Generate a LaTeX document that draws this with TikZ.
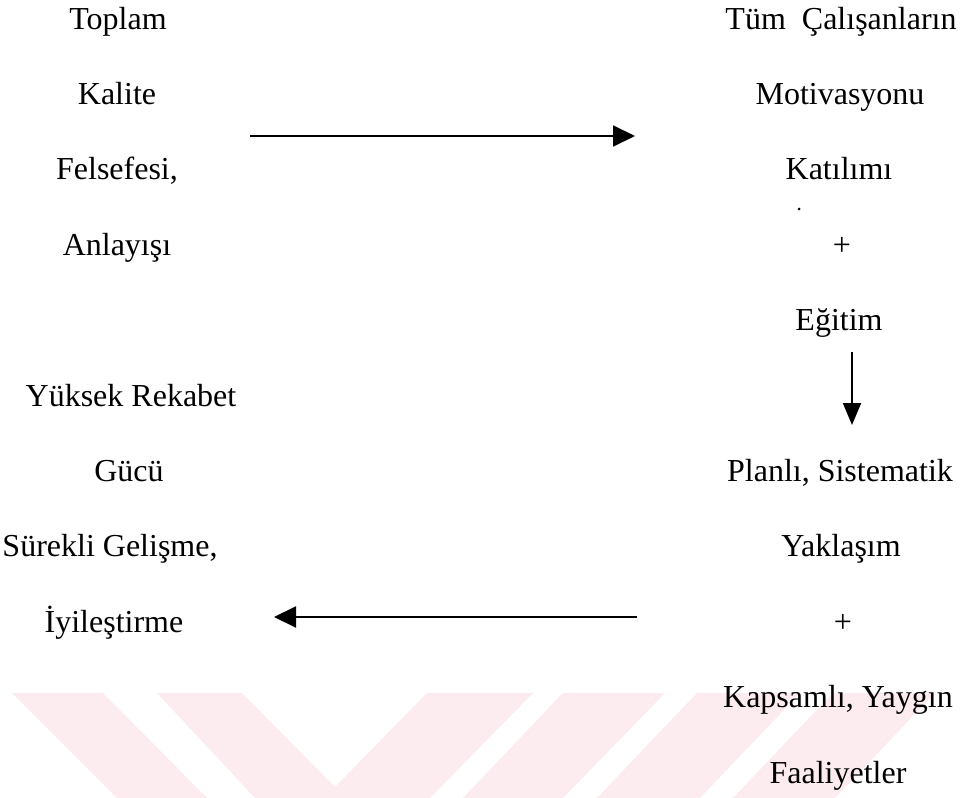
\documentclass[tikz,border=0pt]{standalone}
\usepackage{fontspec}
\setmainfont{Liberation Serif}
\usetikzlibrary{arrows.meta}
\definecolor{wm}{RGB}{252,236,240}
\begin{document}
\begin{tikzpicture}[x=0.5pt,y=-0.5pt,
  lbl/.style={anchor=base,inner sep=0pt,font=\fontsize{16pt}{19pt}\selectfont},
  harr/.style={line width=1pt,-{Triangle[length=11pt,width=10.5pt]}},
  varr/.style={line width=1pt,-{Triangle[length=11pt,width=9pt]}},
  wmark/.style={fill=wm,draw=none}]
\useasboundingbox (0,0) rectangle (960,798);
\fill[white] (0,0) rectangle (960,798);
% watermark
\fill[wmark] (12,693) -- (103,693) -- (207,798) -- (117,798) -- cycle;
\fill[wmark] (157,693) -- (242,693) -- (335,787) -- (427,693) -- (533,693) -- (430,798) -- (255,798) -- cycle;
\fill[wmark] (563,693) -- (665,693) -- (563,798) -- (463,798) -- cycle;
\fill[wmark] (697,693) -- (800,693) -- (700,798) -- (597,798) -- cycle;
\fill[wmark] (833,693) -- (935,693) -- (835,798) -- (733,798) -- cycle;
% left column
\node[lbl] (l1) at (118,29) {Toplam};
\node[lbl] (l2) at (117,104.4) {Kalite};
\node[lbl] (l3) at (117,179.8) {Felsefesi,};
\node[lbl] (l4) at (117,255.2) {Anlayışı};
\node[lbl] (l5) at (131,406) {Yüksek Rekabet};
\node[lbl] (l6) at (129,481.4) {Gücü};
\node[lbl] (l7) at (110,556.8) {Sürekli Gelişme,};
\node[lbl] (l8) at (114,632.2) {İyileştirme};
% right column
\node[lbl] (r1) at (841,29) {Tüm\ \ Çalışanların};
\node[lbl] (r2) at (840,104.4) {Motivasyonu};
\node[lbl] (r3) at (839,179.8) {Katılımı};
\node[lbl] (r4) at (842,255.2) {+};
\node[lbl] (r5) at (839,330.6) {Eğitim};
\node[lbl] (r6) at (840,481.4) {Planlı, Sistematik};
\node[lbl] (r7) at (841,556.8) {Yaklaşım};
\node[lbl] (r8) at (843,632.2) {+};
\node[lbl] (r9) at (838,707.6) {Kapsamlı, Yaygın};
\node[lbl] (r10) at (838,783) {Faaliyetler};
\fill (799,209) circle[radius=1.5];
% arrows
\coordinate (a1s) at (250,136);
\coordinate (a1e) at (635,136);
\coordinate (a2s) at (852,352);
\coordinate (a2e) at (852,425);
\coordinate (a3s) at (637,617);
\coordinate (a3e) at (274,617);
\draw[harr] (a1s) -- (a1e);
\draw[varr] (a2s) -- (a2e);
\draw[harr] (a3s) -- (a3e);
\end{tikzpicture}
\end{document}
